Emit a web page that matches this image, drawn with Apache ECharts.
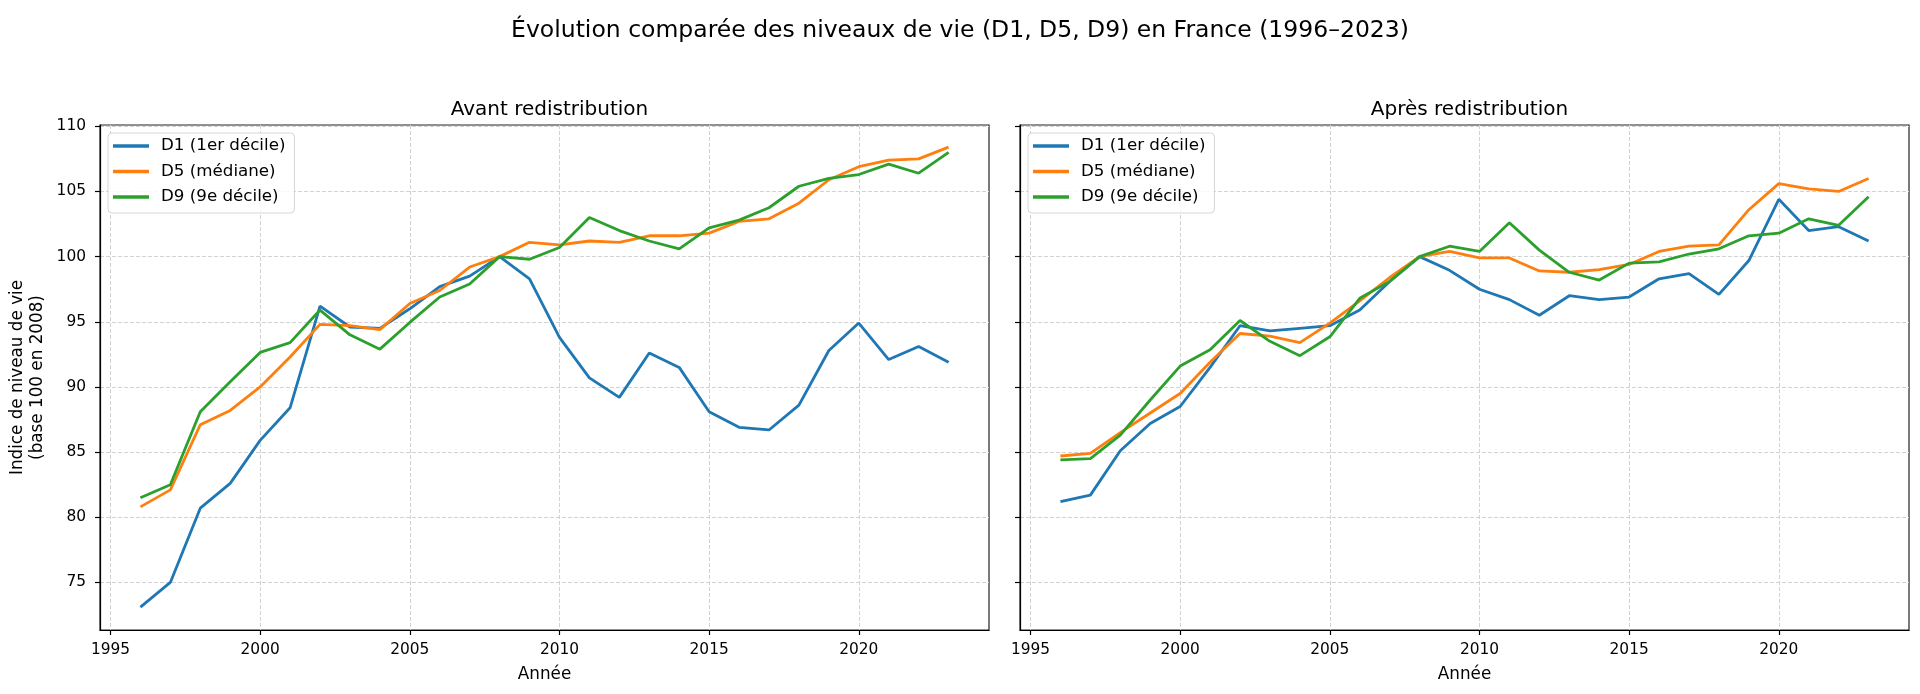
<!DOCTYPE html>
<html><head><meta charset="utf-8">
<script src="https://cdn.jsdelivr.net/npm/echarts@6/dist/echarts.min.js"></script>
<style>html,body{margin:0;padding:0;background:#fff}#c{width:1920px;height:694px}</style>
</head><body><div id="c"></div>
<script>
const years = [1996,1997,1998,1999,2000,2001,2002,2003,2004,2005,2006,2007,2008,2009,2010,2011,2012,2013,2014,2015,2016,2017,2018,2019,2020,2021,2022,2023];
const d1Avant = [73.1,75.0,80.7,82.6,85.9,88.4,96.2,94.6,94.5,96.0,97.7,98.5,100,98.3,93.8,90.7,89.2,92.6,91.5,88.1,86.9,86.7,88.6,92.8,94.9,92.1,93.1,91.9];
const d5Avant = [80.8,82.1,87.1,88.2,90.0,92.3,94.8,94.7,94.4,96.4,97.4,99.2,100,101.1,100.9,101.2,101.1,101.6,101.6,101.8,102.7,102.9,104.1,105.9,106.9,107.4,107.5,108.4];
const d9Avant = [81.5,82.5,88.1,90.4,92.65,93.4,95.9,94.0,92.9,94.95,96.9,97.9,100,99.8,100.7,103.0,102.0,101.2,100.6,102.2,102.8,103.75,105.4,106.0,106.3,107.1,106.4,108.0];
const d1Apres = [81.2,81.7,85.1,87.2,88.5,91.5,94.7,94.3,94.5,94.7,95.9,98.1,100,98.95,97.5,96.7,95.5,97.0,96.7,96.9,98.3,98.7,97.1,99.7,104.4,102.0,102.3,101.2];
const d5Apres = [84.7,84.9,86.5,88.0,89.5,91.9,94.1,93.9,93.4,94.9,96.6,98.4,100,100.4,99.9,99.9,98.9,98.8,99.0,99.4,100.4,100.8,100.9,103.6,105.6,105.2,105.0,106.0];
const d9Apres = [84.4,84.5,86.3,89.0,91.6,92.85,95.1,93.5,92.4,93.85,96.8,98.1,100,100.8,100.4,102.6,100.5,98.8,98.2,99.5,99.6,100.2,100.6,101.6,101.8,102.9,102.4,104.6];
const xTicks = [1995,2000,2005,2010,2015,2020];
const yTicks = [75,80,85,90,95,100,105,110];
const names = ['D1 (1er décile)','D5 (médiane)','D9 (9e décile)'];
const colors = ['#1f77b4','#ff7f0e','#2ca02c'];
const panelTitles = ['Avant redistribution','Après redistribution'];

const FONT = 'DejaVu Sans';
const grids = [
  {left:100, top:125, width:889, height:505},
  {left:1020, top:125, width:889, height:505}
];
function pairs(v){ return years.map((y,i)=>[y,v[i]]); }
const gridLine = {show:true, lineStyle:{color:'#d2d2d2', width:1, type:[4,2]}};

const xAxes = grids.map((g,i)=>({
  type:'value', gridIndex:i, min:1994.65, max:2024.35,
  name:'Année', nameLocation:'middle', nameGap:36,
  nameTextStyle:{fontFamily:FONT, fontSize:16.8, color:'#000'},
  axisLine:{show:true, onZero:false, lineStyle:{color:'#000', width:1.2}},
  axisTick:{show:true, length:5, customValues:xTicks, lineStyle:{color:'#000', width:1.2}},
  axisLabel:{show:true, customValues:xTicks, margin:12, fontFamily:FONT, fontSize:15.4, color:'#000', formatter:v=>String(v)},
  splitLine:gridLine
}));
const yAxes = grids.map((g,i)=>({
  type:'value', gridIndex:i, min:71.35, max:110.1,
  name: i===0 ? 'Indice de niveau de vie\n(base 100 en 2008)' : '',
  nameLocation:'middle', nameGap:52, nameRotate:90,
  nameTextStyle:{fontFamily:FONT, fontSize:16.8, color:'#000', lineHeight:20},
  axisLine:{show:true, onZero:false, lineStyle:{color:'#000', width:1.2}},
  axisTick:{show:true, length:5, customValues:yTicks, lineStyle:{color:'#000', width:1.2}},
  axisLabel:{show:i===0, customValues:yTicks, margin:14, fontFamily:FONT, fontSize:15.4, color:'#000'},
  splitLine:gridLine
}));

const panelData = [[d1Avant,d5Avant,d9Avant],[d1Apres,d5Apres,d9Apres]];
const series = [];
panelData.forEach((arrs,p)=>{
  arrs.forEach((arr,k)=>{
    series.push({
      type:'line', name:names[k], xAxisIndex:p, yAxisIndex:p,
      data:pairs(arr), symbol:'none', showSymbol:false,
      lineStyle:{color:colors[k], width:2.8}, itemStyle:{color:colors[k]},
      animation:false, z:3+k
    });
  });
});

const legends = grids.map((g,i)=>({
  orient:'vertical', left:g.left+8, top:133,
  data:names, icon:'rect', itemWidth:36, itemHeight:3.5, itemGap:7.5,
  padding:[4,9,7,5],
  backgroundColor:'rgba(255,255,255,0.85)', borderColor:'#d6d6d6', borderWidth:1, borderRadius:4,
  textStyle:{fontFamily:FONT, fontSize:16.7, color:'#000', lineHeight:18, padding:[0,0,0,7]},
  selectedMode:false
}));

const titles = [
  {text:'Évolution comparée des niveaux de vie (D1, D5, D9) en France (1996–2023)', left:'center', top:14,
   textStyle:{fontFamily:FONT, fontSize:23.5, fontWeight:'normal', color:'#000'}}
].concat(grids.map((g,i)=>({
  text:panelTitles[i], left:g.left+g.width/2, textAlign:'center', top:95,
  textStyle:{fontFamily:FONT, fontSize:20, fontWeight:'normal', color:'#000'}
})));

const chart = echarts.init(document.getElementById('c'), null, {renderer:'canvas'});
chart.setOption({
  backgroundColor:'#fff',
  animation:false,
  title:titles,
  legend:legends,
  grid:grids.map(g=>Object.assign({show:true, borderColor:'#222', borderWidth:1.2, backgroundColor:'transparent'}, g)),
  xAxis:xAxes, yAxis:yAxes, series:series
});
</script></body></html>
